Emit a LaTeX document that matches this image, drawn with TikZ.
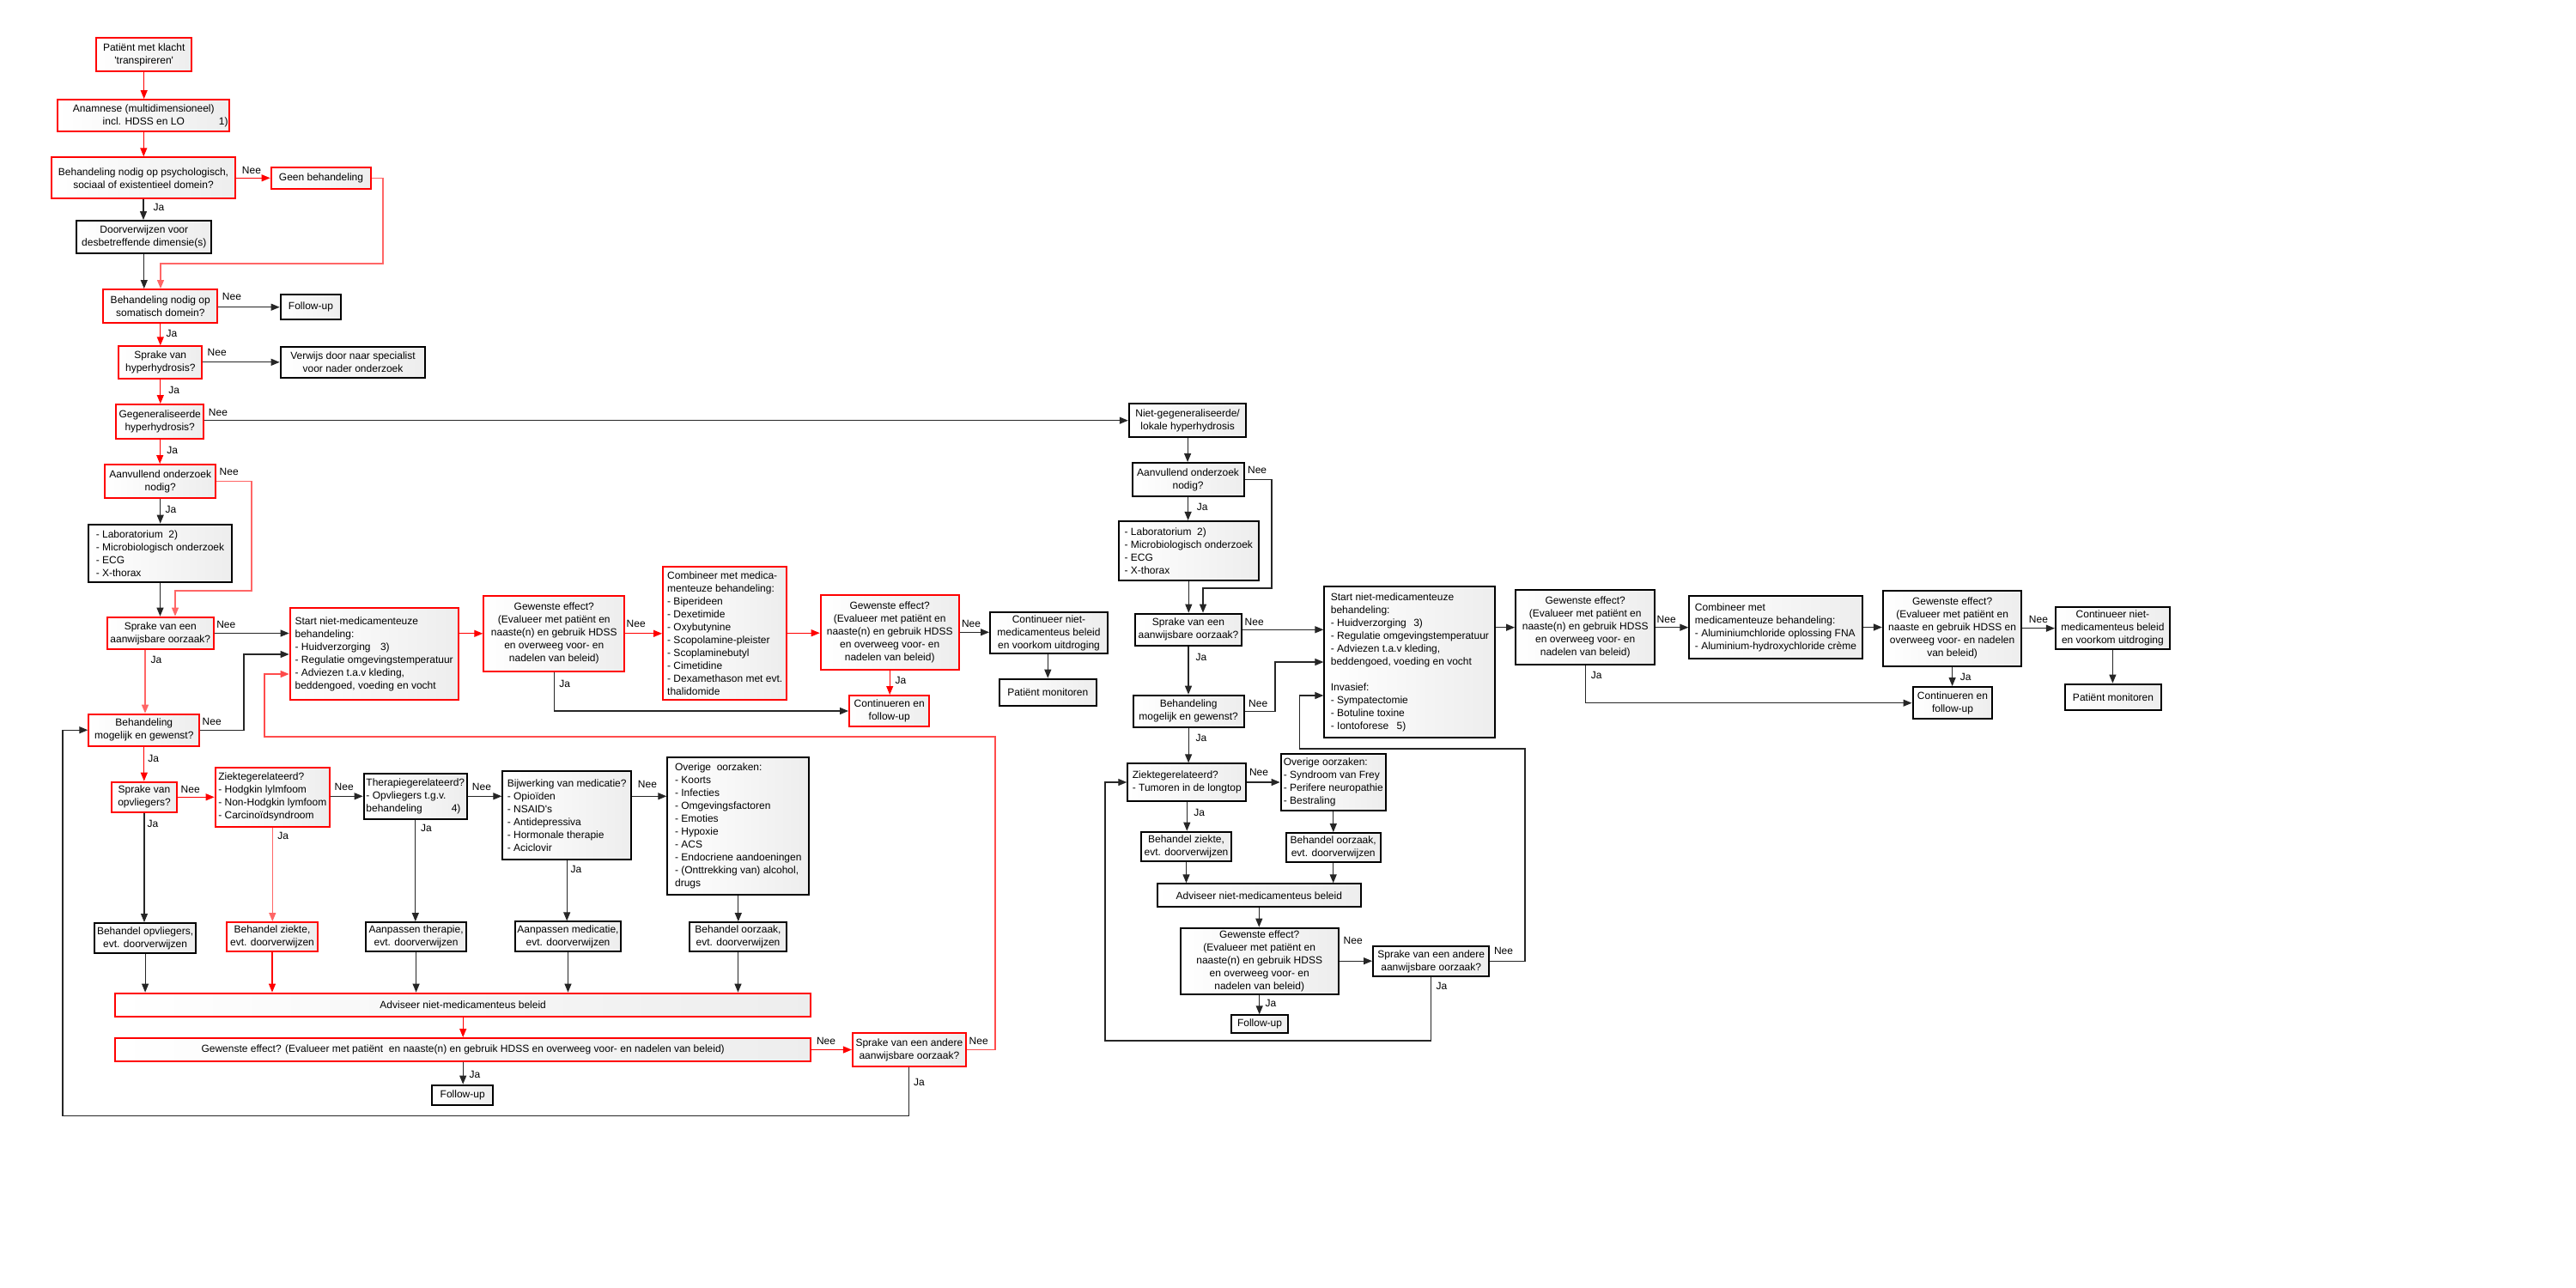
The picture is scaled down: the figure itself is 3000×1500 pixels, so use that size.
\documentclass[tikz,border=0pt]{standalone}
\usepackage{fontspec}
\setmainfont{Liberation Sans}
\usetikzlibrary{arrows.meta}
\newcommand{\fsz}{\fontsize{6}{7.5}\selectfont}
\tikzset{
  box/.style={line width=1pt, left color=white, right color=black!7, inner sep=1pt, font=\fsz, align=center},
  rbox/.style={box, draw=red},
  kbox/.style={box, draw=black},
  lbox/.style={align=left},
  sz/.style 2 args={minimum width={#1*0.5pt}, minimum height={#2*0.5pt}},
  ar/.style={line width=0.55pt, -{Triangle[length=5pt,width=4pt]}},
  rar/.style={ar, draw=red},
  lrar/.style={ar, draw=red!60},
  kar/.style={ar, draw=black!85},
  lbl/.style={font=\fsz, inner sep=0pt}
}
\begin{document}
\begin{tikzpicture}[x=0.5pt,y=-0.5pt]
\useasboundingbox (0,0) rectangle (3000,1500);
% ---------------- left part ----------------
\node[rbox,sz={111}{39}] (p1) at (167.7,63.7) {Patiënt met klacht\\\textquotesingle transpireren\textquotesingle};
\node[rbox,sz={200}{37.3}] (anam) at (167.3,134.7) {Anamnese (multidimensioneel)\\incl. HDSS en LO\rlap{\hspace{20pt}1)}};
\node[rbox,sz={214}{48}] (psych) at (167,207.3) {Behandeling nodig op psychologisch,\\sociaal of existentieel domein?};
\node[rbox,sz={116.7}{25.3}] (geen) at (374,207.3) {Geen behandeling};
\node[kbox,sz={157}{38.3}] (doorv) at (167.8,276.2) {Doorverwijzen voor\\desbetreffende dimensie(s)};
\node[rbox,sz={133}{39.3}] (soma) at (186.8,356.7) {Behandeling nodig op\\somatisch domein?};
\node[kbox,sz={70.7}{29.3}] (fu1) at (362,357.7) {Follow-up};
\node[rbox,sz={97}{38}] (hyper) at (186.8,422.3) {Sprake van\\hyperhydrosis?};
\node[kbox,sz={168.7}{36.3}] (verw) at (411,421.8) {Verwijs door naar specialist\\voor nader onderzoek};
\node[rbox,sz={102.3}{40.3}] (gegen) at (186.2,491.2) {Gegeneraliseerde\\hyperhydrosis?};
\node[rbox,sz={129.3}{39.3}] (aanv) at (186.7,560.7) {Aanvullend onderzoek\\nodig?};
\node[kbox,lbox,sz={167.7}{67.3}] (lab) at (186.5,644.3) {- Laboratorium\hspace{3.3pt}2)\\- Microbiologisch onderzoek\\- ECG\\- X-thorax};
\node[rbox,sz={123.7}{37.7}] (aanw) at (186.8,737.5) {Sprake van een\\aanwijsbare oorzaak?};
\node[rbox,lbox,sz={196}{107.7}] (start) at (435.7,761.5) {Start niet-medicamenteuze\\behandeling:\\- Huidverzorging\hspace{5.7pt}3)\\- Regulatie omgevingstemperatuur\\- Adviezen t.a.v kleding,\\beddengoed, voeding en vocht};
\node[rbox,sz={129}{37}] (mog) at (167.8,850.2) {Behandeling\\mogelijk en gewenst?};
\node[rbox,sz={76.7}{35.3}] (opv) at (168,928.3) {Sprake van\\opvliegers?};
\node[rbox,lbox,sz={133.3}{68.7}] (ziek) at (317.3,928.3) {Ziektegerelateerd?\\- Hodgkin lylmfoom\\- Non-Hodgkin lymfoom\\- Carcinoïdsyndroom};
\node[kbox,lbox,sz={120.3}{53.3}] (ther) at (483.8,927.3) {Therapiegerelateerd?\\- Opvliegers t.g.v.\\behandeling\hspace{17pt}4)};
\node[kbox,lbox,sz={149.7}{103.3}] (bijw) at (660.2,949.3) {Bijwerking van medicatie?\\- Opioïden\\- NSAID\textquotesingle s\\- Antidepressiva\\- Hormonale therapie\\- Aciclovir};
\node[kbox,lbox,sz={165}{160.7}] (over) at (859.8,962) {Overige\ \ oorzaken:\\- Koorts\\- Infecties\\- Omgevingsfactoren\\- Emoties\\- Hypoxie\\- ACS\\- Endocriene aandoeningen\\- (Onttrekking van) alcohol,\\drugs};
\node[kbox,sz={118.2}{35}] (beho) at (169.1,1092.5) {Behandel opvliegers,\\evt. doorverwijzen};
\node[rbox,sz={106.8}{34.3}] (bezi) at (317,1091.2) {Behandel ziekte,\\evt. doorverwijzen};
\node[kbox,sz={117.1}{34.3}] (aath) at (484.6,1091.2) {Aanpassen therapie,\\evt. doorverwijzen};
\node[kbox,sz={121.7}{34.3}] (aame) at (661.5,1090.5) {Aanpassen medicatie,\\evt. doorverwijzen};
\node[kbox,sz={113.7}{34.3}] (beoo) at (859.5,1091.2) {Behandel oorzaak,\\evt. doorverwijzen};
\node[rbox,sz={809.7}{27.3}] (adv) at (539.2,1170.3) {Adviseer niet-medicamenteus beleid};
\node[rbox,sz={809.7}{27}] (gew) at (539.2,1222.5) {Gewenste effect? (Evalueer met patiënt\ \ en naaste(n) en gebruik HDSS en overweeg voor- en nadelen van beleid)};
\node[kbox,sz={71.1}{23.7}] (fu2) at (538.7,1275.5) {Follow-up};
\node[rbox,sz={131.9}{39.7}] (andr) at (1058.9,1222.5) {Sprake van een andere\\aanwijsbare oorzaak?};
\node[rbox,sz={164}{88.3}] (gew1) at (645.3,737.8) {Gewenste effect?\\(Evalueer met patiënt en\\naaste(n) en gebruik HDSS\\en overweeg voor- en\\nadelen van beleid)};
\node[rbox,lbox,sz={144.3}{155}] (comb) at (844.2,737.2) {Combineer met medica-\\menteuze behandeling:\\- Biperideen\\- Dexetimide\\- Oxybutynine\\- Scopolamine-pleister\\- Scoplaminebutyl\\- Cimetidine\\- Dexamethason met evt.\\thalidomide};
\node[rbox,sz={161}{87.3}] (gew2) at (1036.2,736.3) {Gewenste effect?\\(Evalueer met patiënt en\\naaste(n) en gebruik HDSS\\en overweeg voor- en\\nadelen van beleid)};
\node[rbox,sz={93.3}{36}] (cont1) at (1035.7,828) {Continueren en\\follow-up};
\node[kbox,sz={137}{47.7}] (cnb1) at (1221.5,737.2) {Continueer niet-\\medicamenteus beleid\\en voorkom uitdroging};
\node[kbox,sz={112.7}{31.3}] (pm1) at (1220.3,806.3) {Patiënt monitoren};
% ---------------- right part ----------------
\node[kbox,sz={136.6}{39.3}] (ng) at (1383.1,489.7) {Niet-gegeneraliseerde/\\lokale hyperhydrosis};
\node[kbox,sz={130}{39.3}] (aanv2) at (1383.6,558.7) {Aanvullend onderzoek\\nodig?};
\node[kbox,lbox,sz={163.1}{68.7}] (lab2) at (1384.3,641.3) {- Laboratorium\hspace{3.3pt}2)\\- Microbiologisch onderzoek\\- ECG\\- X-thorax};
\node[kbox,sz={123.8}{37.3}] (aanw2) at (1384,733.3) {Sprake van een\\aanwijsbare oorzaak?};
\node[kbox,lbox,sz={199}{176.7}] (start2) at (1641.9,771) {Start niet-medicamenteuze\\behandeling:\\- Huidverzorging\hspace{4.2pt}3)\\- Regulatie omgevingstemperatuur\\- Adviezen t.a.v kleding,\\beddengoed, voeding en vocht\\[7.5pt]Invasief:\\- Sympatectomie\\- Botuline toxine\\- Iontoforese\hspace{4.7pt}5)};
\node[kbox,sz={128.9}{37}] (mog2) at (1384.1,828.2) {Behandeling\\mogelijk en gewenst?};
\node[kbox,lbox,sz={138}{43.3}] (ziek2) at (1382.3,911) {Ziektegerelateerd?\\- Tumoren in de longtop};
\node[kbox,lbox,sz={122.3}{65.7}] (over2) at (1552.8,911.2) {Overige oorzaken:\\- Syndroom van Frey\\- Perifere neuropathie\\- Bestraling};
\node[kbox,sz={104.3}{34.7}] (bezi2) at (1381.5,986) {Behandel ziekte,\\evt. doorverwijzen};
\node[kbox,sz={110}{34.3}] (beoo2) at (1552.7,987.2) {Behandel oorzaak,\\evt. doorverwijzen};
\node[kbox,sz={237.3}{26.7}] (adv2) at (1466.3,1042.7) {Adviseer niet-medicamenteus beleid};
\node[kbox,sz={184}{77}] (gew4) at (1466.7,1119.2) {Gewenste effect?\\(Evalueer met patiënt en\\naaste(n) en gebruik HDSS\\en overweeg voor- en\\nadelen van beleid)};
\node[kbox,sz={135.3}{35}] (andr2) at (1666.7,1119.8) {Sprake van een andere\\aanwijsbare oorzaak?};
\node[kbox,sz={66.7}{21}] (fu3) at (1467,1192.8) {Follow-up};
\node[kbox,sz={162.3}{87.3}] (gew3) at (1846.2,730.7) {Gewenste effect?\\(Evalueer met patiënt en\\naaste(n) en gebruik HDSS\\en overweeg voor- en\\nadelen van beleid)};
\node[kbox,lbox,sz={201.3}{72.3}] (comb2) at (2068,730.5) {Combineer met\\medicamenteuze behandeling:\\- Aluminiumchloride oplossing FNA\\- Aluminium-hydroxychloride crème};
\node[kbox,sz={161.4}{88}] (gew5) at (2273.6,731.7) {Gewenste effect?\\(Evalueer met patiënt en\\naaste en gebruik HDSS en\\overweeg voor- en nadelen\\van beleid)};
\node[kbox,sz={132.9}{49.7}] (cnb2) at (2460.4,731.5) {Continueer niet-\\medicamenteus beleid\\en voorkom uitdroging};
\node[kbox,sz={112.5}{30.7}] (pm2) at (2461,812) {Patiënt monitoren};
\node[kbox,sz={92.9}{37.3}] (cont2) at (2274,818.7) {Continueren en\\follow-up};
% ---------------- connectors left ----------------
\draw[rar] (p1.south) -- (p1.south |- anam.north);
\draw[rar] (anam.south) -- (anam.south |- psych.north);
\draw[rar] (psych.east) -- (geen.west);
\draw[kar] (psych.south) -- (psych.south |- doorv.north);
\draw[kar] (doorv.south) -- (doorv.south |- soma.north);
\draw[lrar] (geen.east) -- (446,207.3) -- (446,307) -- (187,307) -- (187,0 |- soma.north);
\draw[kar] (soma.east |- fu1.west) -- (fu1.west);
\draw[rar] (soma.south) -- (soma.south |- hyper.north);
\draw[kar] (hyper.east |- verw.west) -- (verw.west);
\draw[rar] (hyper.south) -- (hyper.south |- gegen.north);
\draw[kar] (gegen.east |- ng.west) -- (ng.west);
\draw[rar] (gegen.south) -- (gegen.south |- aanv.north);
\draw[kar] (aanv.south) -- (aanv.south |- lab.north);
\draw[lrar] (aanv.east) -- (293,560.7) -- (293,688) -- (204,688) -- (204,0 |- aanw.north);
\draw[kar] (lab.south) -- (lab.south |- aanw.north);
\draw[kar] (aanw.east) -- (aanw.east -| start.west);
\draw[lrar] (169,0 |- aanw.south) -- (169,0 |- mog.north);
\draw[kar] (mog.east) -- (284,850.2) -- (284,762) -- (start.west |- 284,762);
\draw[ar, draw=red!70] (andr.east) -- (1159,1222.5) -- (1159,858) -- (308,858) -- (308,785) -- (start.west |- 308,785);
\draw[rar] (start.east |- gew1.west) -- (gew1.west);
\draw[rar] (gew1.east) -- (gew1.east -| comb.west);
\draw[kar] (gew1.south) |- (cont1.west);
\draw[rar] (comb.east) -- (comb.east -| gew2.west);
\draw[rar] (gew2.south) -- (gew2.south |- cont1.north);
\draw[kar] (gew2.east) -- (gew2.east -| cnb1.west);
\draw[kar] (cnb1.south -| pm1.north) -- (pm1.north);
\draw[rar] (mog.south) -- (mog.south |- opv.north);
\draw[rar] (opv.east) -- (opv.east -| ziek.west);
\draw[kar] (opv.south) -- (opv.south |- beho.north);
\draw[kar] (ziek.east |- ther.west) -- (ther.west);
\draw[lrar] (ziek.south) -- (ziek.south |- bezi.north);
\draw[kar] (ther.east) -- (ther.east -| bijw.west);
\draw[kar] (ther.south) -- (ther.south |- aath.north);
\draw[kar] (bijw.east |- ther.east) -- (over.west |- ther.east);
\draw[kar] (bijw.south) -- (bijw.south |- aame.north);
\draw[kar] (over.south) -- (over.south |- beoo.north);
\draw[kar] (beho.south) -- (beho.south |- adv.north);
\draw[rar] (bezi.south) -- (bezi.south |- adv.north);
\draw[kar] (aath.south) -- (aath.south |- adv.north);
\draw[kar] (aame.south) -- (aame.south |- adv.north);
\draw[kar] (beoo.south) -- (beoo.south |- adv.north);
\draw[rar] (adv.south) -- (gew.north);
\draw[kar] (gew.south) -- (gew.south |- fu2.north);
\draw[rar] (gew.east) -- (gew.east -| andr.west);
\draw[kar] (andr.south) -- (1058.9,1299.5) -- (73,1299.5) -- (73,850.2) -- (mog.west);
% ---------------- connectors right ----------------
\draw[kar] (ng.south) -- (ng.south |- aanv2.north);
\draw[kar] (aanv2.south) -- (aanv2.south |- lab2.north);
\draw[kar] (aanv2.east) -- (1481,558.7) -- (1481,685) -- (1401,685) -- (1401,0 |- aanw2.north);
\draw[kar] (lab2.south) -- (lab2.south |- aanw2.north);
\draw[kar] (aanw2.east) -- (aanw2.east -| start2.west);
\draw[kar] (aanw2.south) -- (aanw2.south |- mog2.north);
\draw[kar] (mog2.east) -- (1485,828.2) -- (1485,771) -- (start2.west |- 1485,771);
\draw[kar] (mog2.south) -- (mog2.south |- ziek2.north);
\draw[kar] (ziek2.east) -- (ziek2.east -| over2.west);
\draw[kar] (ziek2.south) -- (ziek2.south |- bezi2.north);
\draw[kar] (over2.south) -- (over2.south |- beoo2.north);
\draw[kar] (bezi2.south) -- (bezi2.south |- adv2.north);
\draw[kar] (beoo2.south) -- (beoo2.south |- adv2.north);
\draw[kar] (adv2.south) -- (adv2.south |- gew4.north);
\draw[kar] (gew4.south) -- (gew4.south |- fu3.north);
\draw[kar] (gew4.east) -- (gew4.east -| andr2.west);
\draw[kar] (andr2.east) -- (1776,1119.8) -- (1776,872) -- (1513.4,872) -- (1513.4,810) -- (start2.west |- 1513.4,810);
\draw[kar] (andr2.south) -- (1666.7,1212) -- (1287,1212) -- (1287,911) -- (ziek2.west);
\draw[kar] (start2.east |- gew3.west) -- (gew3.west);
\draw[kar] (gew3.east) -- (gew3.east -| comb2.west);
\draw[kar] (gew3.south) |- (cont2.west);
\draw[kar] (comb2.east) -- (comb2.east -| gew5.west);
\draw[kar] (gew5.east) -- (gew5.east -| cnb2.west);
\draw[kar] (gew5.south) -- (gew5.south |- cont2.north);
\draw[kar] (cnb2.south) -- (cnb2.south |- pm2.north);
% ---------------- labels ----------------
\node[lbl] (l1) at (293,198.7) {Nee};
\node[lbl] (l2) at (185,241.7) {Ja};
\node[lbl] (l3) at (270,345.3) {Nee};
\node[lbl] (l4) at (200,388.7) {Ja};
\node[lbl] (l5) at (252.7,410.7) {Nee};
\node[lbl] (l6) at (202.7,454.3) {Ja};
\node[lbl] (l7) at (254,480.7) {Nee};
\node[lbl] (l8) at (200.7,524.7) {Ja};
\node[lbl] (l9) at (266.7,549.7) {Nee};
\node[lbl] (l10) at (199,593.3) {Ja};
\node[lbl] (l11) at (263.3,727.3) {Nee};
\node[lbl] (l12) at (182,768.7) {Ja};
\node[lbl] (l13) at (246.7,840.7) {Nee};
\node[lbl] (l14) at (178.7,883.3) {Ja};
\node[lbl] (l15) at (221.7,919.3) {Nee};
\node[lbl] (l16) at (400.7,916.7) {Nee};
\node[lbl] (l17) at (740.7,726.7) {Nee};
\node[lbl] (l18) at (657.7,796.7) {Ja};
\node[lbl] (l19) at (561,916.7) {Nee};
\node[lbl] (l20) at (754,913.3) {Nee};
\node[lbl] (l21) at (1131,726.7) {Nee};
\node[lbl] (l22) at (1049,792.7) {Ja};
\node[lbl] (l23) at (177.9,959.3) {Ja};
\node[lbl] (l24) at (329.6,973.3) {Ja};
\node[lbl] (l25) at (496.4,964.3) {Ja};
\node[lbl] (l26) at (552.9,1251.7) {Ja};
\node[lbl] (l27) at (671,1012.7) {Ja};
\node[lbl] (l28) at (962,1212.7) {Nee};
\node[lbl] (l29) at (1139.7,1212.7) {Nee};
\node[lbl] (l30) at (1070.5,1260) {Ja};
\node[lbl] (r1) at (1464.1,547.7) {Nee};
\node[lbl] (r2) at (1400.3,590.7) {Ja};
\node[lbl] (r3) at (1460.7,724) {Nee};
\node[lbl] (r4) at (1399,765) {Ja};
\node[lbl] (r5) at (1465.2,819) {Nee};
\node[lbl] (r6) at (1399,859.3) {Ja};
\node[lbl] (r7) at (1466,899.3) {Nee};
\node[lbl] (r8) at (1396.7,946) {Ja};
\node[lbl] (r9) at (1575.7,1095) {Nee};
\node[lbl] (r10) at (1751,1107.7) {Nee};
\node[lbl] (r11) at (1679,1148.7) {Ja};
\node[lbl] (r12) at (1480,1168.7) {Ja};
\node[lbl] (r13) at (1940.7,721) {Nee};
\node[lbl] (r14) at (1859.3,786.7) {Ja};
\node[lbl] (r15) at (2373.9,721.7) {Nee};
\node[lbl] (r16) at (2289.3,788.3) {Ja};
\end{tikzpicture}
\end{document}
